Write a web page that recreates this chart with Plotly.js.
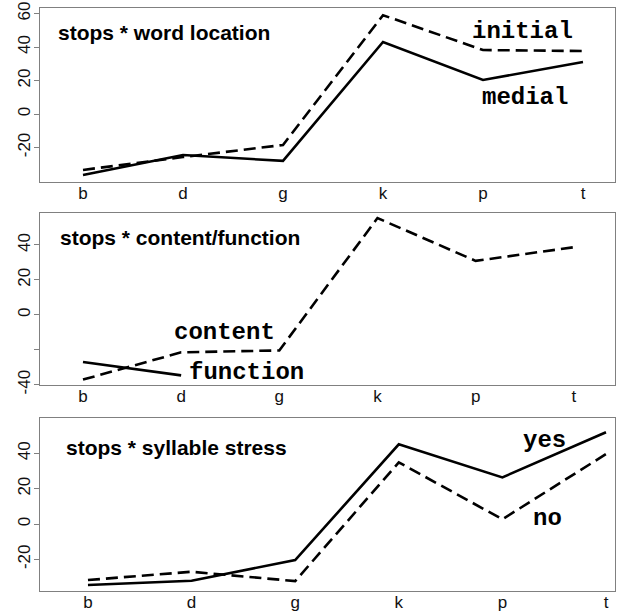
<!DOCTYPE html>
<html>
<head>
<meta charset="utf-8">
<script src="https://cdn.plot.ly/plotly-3.0.1.min.js"></script>
<style>
  html, body { margin: 0; padding: 0; background: #fff; }
  #chart { width: 618px; height: 614px; }
</style>
</head>
<body>
<div id="chart"></div>
<script>
// Stop consonants on the x axis (shared by all three panels)
const stops = ['b', 'd', 'g', 'k', 'p', 't'];

// Panel 1: stops * word location
const initialVals = [-33.4, -25.7, -18.5, 59.0, 38.2, 37.6];
const medialVals  = [-36.4, -24.5, -28.0, 43.0, 20.3, 31.0];

// Panel 2: stops * content/function
const contentVals  = [-37.1, -21.5, -20.4, 55.4, 30.9, 38.7];
const functionVals = [-27.0, -34.7, null, null, null, null];

// Panel 3: stops * syllable stress
const yesVals = [-34.5, -32.1, -20.4, 45.1, 26.4, 51.9];
const noVals  = [-31.7, -27.0, -32.3, 34.9, 2.7, 39.6];

// Y tick labels per panel
const yTicks1 = [-20, 0, 20, 40, 60];
const yTicks2 = [-40, -20, 0, 20, 40];
const yTickText2 = ['-40', '', '0', '20', '40'];
const yTicks3 = [-20, 0, 20, 40];

const solid = { color: '#000', width: 2.6, dash: 'solid' };
const dashed = { color: '#000', width: 2.6, dash: '12px,6px' };

function line(y, style, xa, ya) {
  return { x: stops, y: y, type: 'scatter', mode: 'lines', line: style,
           xaxis: xa, yaxis: ya, hoverinfo: 'skip', connectgaps: false };
}

const traces = [
  line(initialVals, dashed, 'x', 'y'),
  line(medialVals, solid, 'x', 'y'),
  line(contentVals, dashed, 'x2', 'y2'),
  line(functionVals, solid, 'x2', 'y2'),
  line(yesVals, solid, 'x3', 'y3'),
  line(noVals, dashed, 'x3', 'y3')
];

const W = 618, H = 614;
const px = v => v / W;
const py = v => 1 - v / H;

const tickFont = { family: 'Liberation Sans', size: 17, color: '#111' };

function xAxis(range, anchor) {
  return {
    type: 'category', categoryorder: 'array', categoryarray: stops,
    range: range, domain: [px(40), px(615)], anchor: anchor,
    showline: true, mirror: true, linecolor: '#808080', linewidth: 1.2,
    showgrid: false, zeroline: false, ticks: '',
    ticklabelstandoff: -5,
    tickfont: tickFont, fixedrange: true
  };
}

function yAxis(range, top, bottom, anchor, vals, text) {
  return {
    range: range, domain: [py(bottom), py(top)], anchor: anchor,
    showline: true, mirror: true, linecolor: '#808080', linewidth: 1.2,
    showgrid: false, zeroline: false,
    ticks: 'outside', ticklen: 5, tickcolor: '#808080', tickwidth: 1,
    tickvals: vals, ticktext: text || vals.map(String), tickangle: -90,
    ticklabelstandoff: -3, tickfont: tickFont, fixedrange: true
  };
}

const titleFont = { family: 'Liberation Sans, Arial, sans-serif', size: 21, color: '#000', weight: 'bold' };
const monoFont = { family: 'Liberation Mono, Courier New, monospace', size: 24, color: '#000', weight: 'bold' };

function panelTitle(text, left, yc) {
  return { text: '<b>' + text + '</b>', xref: 'paper', yref: 'paper', x: px(left), y: py(yc),
           xanchor: 'left', yanchor: 'middle', showarrow: false, font: titleFont };
}
function seriesLabel(text, xa, ya, x, y) {
  return { text: '<b>' + text + '</b>', xref: xa, yref: ya, x: x, y: y,
           xanchor: 'center', yanchor: 'middle', showarrow: false, font: monoFont };
}

const layout = {
  width: W, height: H,
  margin: { l: 0, r: 0, t: 0, b: 0 },
  paper_bgcolor: '#fff', plot_bgcolor: '#fff',
  showlegend: false,
  xaxis:  xAxis([-0.43, 5.32], 'y'),
  yaxis:  yAxis([-40.6, 63.3], 8, 182, 'x', yTicks1),
  xaxis2: xAxis([-0.438, 5.42], 'y2'),
  yaxis2: yAxis([-40.2, 58.3], 213, 385, 'x2', yTicks2, yTickText2),
  xaxis3: xAxis([-0.463, 5.087], 'y3'),
  yaxis3: yAxis([-37.9, 60.0], 418, 591, 'x3', yTicks3),
  annotations: [
    panelTitle('stops * word location', 56, 32),
    panelTitle('stops * content/function', 58, 238),
    panelTitle('stops * syllable stress', 64, 447),
    seriesLabel('initial', 'x', 'y', 4.39, 49),
    seriesLabel('medial', 'x', 'y', 4.42, 10),
    seriesLabel('content', 'x2', 'y2', 1.446, -10.3),
    seriesLabel('function', 'x2', 'y2', 1.67, -33.1),
    seriesLabel('yes', 'x3', 'y3', 4.41, 47.5),
    seriesLabel('no', 'x3', 'y3', 4.44, 3.4)
  ]
};

Plotly.newPlot('chart', traces, layout, { staticPlot: true, displayModeBar: false });
</script>
</body>
</html>
